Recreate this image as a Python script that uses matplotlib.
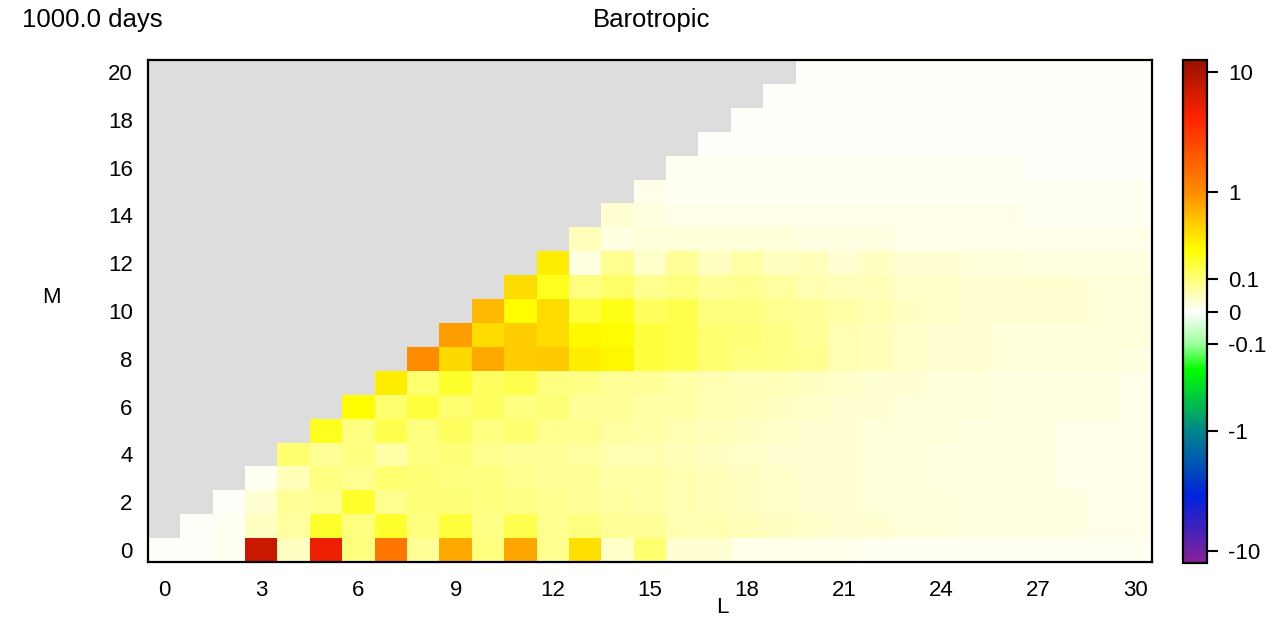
import numpy as np
import matplotlib
matplotlib.use('Agg')
import matplotlib.pyplot as plt
from matplotlib.colors import LinearSegmentedColormap, FuncNorm

plt.rcParams['font.family'] = ['Liberation Sans', 'DejaVu Sans']

n_l = 31  # L = 0..30
n_m = 21  # M = 0..20

# spectral amplitude per zonal wavenumber M, listed for L = M..30
row_m0 = [0.0, 0.001, 0.008, 7.3, 0.040, 5.1, 0.094, 1.35, 0.070, 0.73, 0.094, 0.78, 0.079,
          0.40, 0.032, 0.110, 0.027, 0.027, 0.011, 0.011, 0.010, 0.010, 0.009, 0.009, 0.008,
          0.007, 0.007, 0.006, 0.006, 0.006, 0.005]
row_m1 = [0.001, 0.008, 0.040, 0.065, 0.187, 0.094, 0.187, 0.094, 0.166, 0.087, 0.146, 0.079,
          0.094, 0.070, 0.072, 0.052, 0.050, 0.042, 0.036, 0.033, 0.027, 0.025, 0.023, 0.022,
          0.019, 0.017, 0.016, 0.015, 0.014, 0.013]
row_m2 = [0.001, 0.029, 0.072, 0.079, 0.187, 0.079, 0.102, 0.100, 0.094, 0.087, 0.079, 0.072,
          0.065, 0.058, 0.052, 0.044, 0.037, 0.033, 0.028, 0.025, 0.024, 0.022, 0.020, 0.019,
          0.017, 0.016, 0.015, 0.014, 0.013]
row_m3 = [0.008, 0.046, 0.094, 0.079, 0.110, 0.102, 0.094, 0.094, 0.079, 0.072, 0.072, 0.058,
          0.058, 0.050, 0.043, 0.036, 0.031, 0.028, 0.026, 0.024, 0.021, 0.019, 0.018, 0.016,
          0.015, 0.013, 0.012, 0.011]
row_m4 = [0.110, 0.072, 0.094, 0.058, 0.094, 0.100, 0.079, 0.072, 0.072, 0.065, 0.052, 0.050,
          0.043, 0.036, 0.034, 0.030, 0.028, 0.025, 0.023, 0.021, 0.019, 0.018, 0.016, 0.015,
          0.013, 0.012, 0.011]
row_m5 = [0.210, 0.094, 0.146, 0.094, 0.127, 0.094, 0.110, 0.079, 0.079, 0.065, 0.058, 0.050,
          0.043, 0.037, 0.033, 0.029, 0.026, 0.024, 0.022, 0.020, 0.019, 0.017, 0.016, 0.014,
          0.013, 0.012]
row_m6 = [0.260, 0.110, 0.166, 0.110, 0.127, 0.094, 0.100, 0.072, 0.069, 0.058, 0.056, 0.049,
          0.043, 0.036, 0.032, 0.029, 0.026, 0.024, 0.022, 0.020, 0.018, 0.017, 0.016, 0.015,
          0.014]
row_m7 = [0.330, 0.110, 0.187, 0.127, 0.146, 0.094, 0.087, 0.072, 0.072, 0.058, 0.050, 0.044,
          0.042, 0.036, 0.033, 0.029, 0.025, 0.022, 0.020, 0.018, 0.017, 0.016, 0.015, 0.014]
row_m8 = [1.00, 0.43, 0.73, 0.50, 0.52, 0.32, 0.29, 0.166, 0.146, 0.110, 0.094, 0.087, 0.079,
          0.050, 0.042, 0.035, 0.030, 0.026, 0.024, 0.023, 0.021, 0.020, 0.019]
row_m9 = [0.82, 0.41, 0.50, 0.41, 0.28, 0.26, 0.166, 0.146, 0.110, 0.100, 0.087, 0.072, 0.050,
          0.042, 0.035, 0.030, 0.026, 0.024, 0.023, 0.022, 0.021, 0.020]
row_m10 = [0.62, 0.26, 0.41, 0.166, 0.22, 0.127, 0.146, 0.094, 0.094, 0.079, 0.072, 0.056,
           0.054, 0.036, 0.034, 0.029, 0.028, 0.026, 0.025, 0.024, 0.023]
row_m11 = [0.41, 0.21, 0.094, 0.12, 0.079, 0.094, 0.072, 0.079, 0.065, 0.052, 0.044, 0.042,
           0.035, 0.034, 0.029, 0.028, 0.027, 0.026, 0.024, 0.023]
row_m12 = [0.32, 0.018, 0.080, 0.034, 0.070, 0.040, 0.058, 0.040, 0.046, 0.026, 0.036, 0.025,
           0.029, 0.020, 0.020, 0.019, 0.019, 0.018, 0.018]
row_m13 = [0.046, 0.018, 0.023, 0.023, 0.022, 0.022, 0.024, 0.016, 0.015, 0.015, 0.014, 0.014,
           0.013, 0.013, 0.012, 0.012, 0.011, 0.011]
row_m14 = [0.029, 0.016, 0.012, 0.012, 0.012, 0.013, 0.013, 0.014, 0.013, 0.012, 0.011, 0.010,
           0.010, 0.009, 0.009, 0.008, 0.008]
row_m15 = [0.011, 0.008, 0.008, 0.008, 0.008, 0.009, 0.009, 0.009, 0.008, 0.008, 0.007, 0.007,
           0.007, 0.006, 0.006, 0.006]
row_m16 = [0.006, 0.005, 0.005, 0.006, 0.006, 0.006, 0.006, 0.005, 0.005, 0.005, 0.005, 0.004,
           0.004, 0.004, 0.004]
row_m17 = [0.004, 0.004, 0.004, 0.004, 0.004, 0.004, 0.004, 0.004, 0.003, 0.003, 0.003, 0.003,
           0.003, 0.003]
row_m18 = [0.003, 0.003, 0.003, 0.003, 0.003, 0.003, 0.002, 0.002, 0.002, 0.002, 0.002, 0.002,
           0.002]
row_m19 = [0.002, 0.002, 0.002, 0.002, 0.002, 0.002, 0.001, 0.001, 0.001, 0.001, 0.001, 0.001]
row_m20 = [0.001, 0.001, 0.001, 0.001, 0.001, 0.001, 0.001, 0.001, 0.001, 0.001, 0.001]

rows = [row_m0, row_m1, row_m2, row_m3, row_m4, row_m5, row_m6, row_m7, row_m8, row_m9,
        row_m10, row_m11, row_m12, row_m13, row_m14, row_m15, row_m16, row_m17, row_m18,
        row_m19, row_m20]

cbar_ticks = [-10, -1, -0.1, 0, 0.1, 1, 10]
cbar_labels = ['-10', '-1', '-0.1', '0', '0.1', '1', '10']
x_ticks = [0, 3, 6, 9, 12, 15, 18, 21, 24, 27, 30]
y_ticks = [0, 2, 4, 6, 8, 10, 12, 14, 16, 18, 20]

# triangular truncation: cells with M > L stay empty (NaN -> grey)
grid = np.full((n_m, n_l), np.nan)
for m, vals in enumerate(rows):
    grid[m, m:] = vals

cmap = LinearSegmentedColormap.from_list('spec', [
    (0.000, '#882299'), (0.131, '#0022dd'), (0.264, '#008888'), (0.384, '#00ff00'),
    (0.437, '#a0ffa0'), (0.500, '#ffffff'), (0.622, '#ffff00'), (0.676, '#ffcc00'),
    (0.738, '#ff8c00'), (0.887, '#ff2200'), (1.000, '#991100')])
cmap.set_bad('#dddddd')


def fwd(x):
    return np.sign(x) * np.log1p(8 * np.abs(x))


def inv(y):
    return np.sign(y) * np.expm1(np.abs(y)) / 8


norm = FuncNorm((fwd, inv), vmin=-12.5, vmax=12.5)

fig = plt.figure(figsize=(12.86, 6.2), dpi=100)
ax = fig.add_axes([148 / 1286, 58 / 620, 1004 / 1286, 502 / 620])
cax = fig.add_axes([1183 / 1286, 57 / 620, 24 / 1286, 503 / 620])

im = ax.imshow(np.ma.masked_invalid(grid), origin='lower', cmap=cmap, norm=norm,
               extent=(-0.5, n_l - 0.5, -0.5, n_m - 0.5), aspect='auto',
               interpolation='nearest')

ax.set_xticks(x_ticks)
ax.set_yticks(y_ticks)
ax.tick_params(axis='both', length=0, labelsize=16)
ax.tick_params(axis='x', pad=13)
ax.tick_params(axis='y', pad=11)
for s in ax.spines.values():
    s.set_linewidth(1.6)

ax.set_xlabel('L', fontsize=16)
ax.xaxis.set_label_coords(0.572, -0.09)
ax.xaxis.label.set_va('center')
ax.set_ylabel('M', fontsize=16, rotation=0)
ax.yaxis.set_label_coords(-0.096, 0.526)
ax.yaxis.label.set_va('center')
ax.yaxis.label.set_ha('center')

cb = fig.colorbar(im, cax=cax)
cb.set_ticks(cbar_ticks, labels=cbar_labels)
cb.ax.tick_params(length=8, width=1.5, labelsize=16, pad=7)
cb.ax.minorticks_off()
cb.outline.set_linewidth(1.6)

fig.text(652 / 1286, 1 - 20 / 620, 'Barotropic', ha='center', va='center', fontsize=18.5)
fig.text(22 / 1286, 1 - 20 / 620, '1000.0 days', ha='left', va='center', fontsize=18.5)

fig.savefig('out.png', dpi=100)
